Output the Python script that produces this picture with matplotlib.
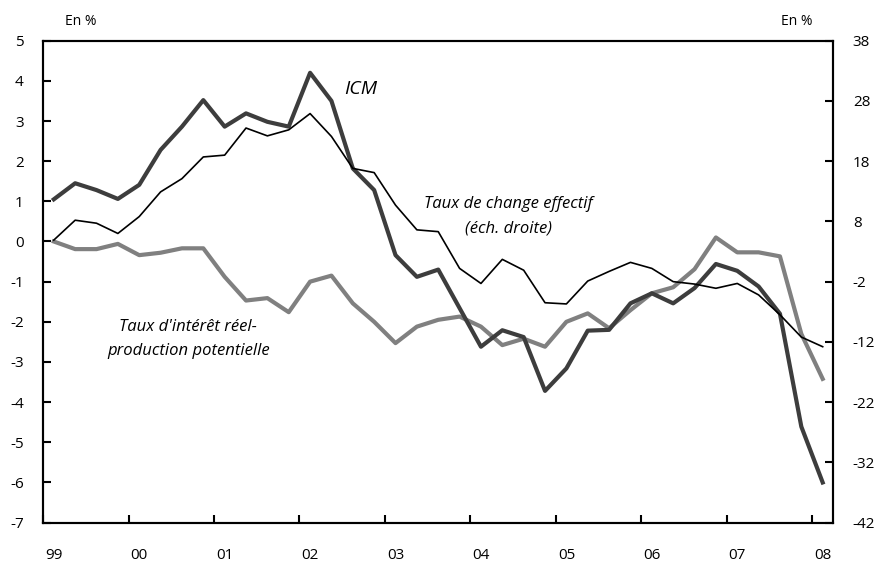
import numpy as np
import matplotlib
matplotlib.use("Agg")
import matplotlib.pyplot as plt

plt.rcParams['font.family'] = ['Open Sans', 'DejaVu Sans']
plt.rcParams['axes.unicode_minus'] = False

# trimestres 1999T1 - 2008T1
annees = ['99', '00', '01', '02', '03', '04', '05', '06', '07', '08']

icm = [1.05, 1.45, 1.28, 1.06, 1.41, 2.28, 2.86, 3.52, 2.86, 3.19, 2.98, 2.86,
       4.2, 3.5, 1.82, 1.28, -0.34, -0.88, -0.7, -1.66, -2.62, -2.21, -2.38, -3.72,
       -3.16, -2.22, -2.2, -1.54, -1.29, -1.54, -1.16, -0.56, -0.73, -1.12, -1.8, -4.61,
       -6.0]

taux_interet = [0.0, -0.19, -0.19, -0.06, -0.34, -0.28, -0.17, -0.17, -0.88, -1.47, -1.41, -1.76,
                -1.0, -0.85, -1.54, -2.0, -2.53, -2.12, -1.95, -1.87, -2.12, -2.58, -2.42, -2.62,
                -2.0, -1.79, -2.16, -1.71, -1.29, -1.14, -0.69, 0.1, -0.27, -0.27, -0.37, -2.3,
                -3.42]

# echelle de droite
taux_change = [4.9, 8.2, 7.7, 6.0, 8.8, 12.9, 15.1, 18.7, 19.0, 23.5, 22.2, 23.2,
               25.9, 22.1, 16.8, 16.1, 10.7, 6.6, 6.3, 0.2, -2.3, 1.7, -0.1, -5.5,
               -5.7, -1.9, -0.3, 1.2, 0.2, -2.0, -2.4, -3.1, -2.3, -4.2, -7.5, -11.2,
               -12.8]

x = np.arange(len(icm))

fig = plt.figure(figsize=(8.8, 5.65), dpi=100)
ax = fig.add_axes([0.049, 0.075, 0.898, 0.853])
ax2 = ax.twinx()

ax.plot(x, taux_interet, color='#808080', lw=3.0, zorder=3)
ax.plot(x, icm, color='#3d3d3d', lw=3.0, zorder=4)
ax2.plot(x, taux_change, color='black', lw=1.2, zorder=5)

ax.set_xlim(-0.5, len(icm) - 0.5)
ax.set_ylim(-7, 5)
ax.set_yticks(np.arange(-7, 6, 1))
ax2.set_ylim(-42, 38)
ax2.set_yticks(np.arange(-42, 39, 10))

ax.set_xticks(np.arange(-0.5, len(icm) - 1, 4))
ax.set_xticklabels([])
ax.set_xticks(np.arange(0, len(icm), 4), minor=True)
ax.set_xticklabels(annees, minor=True)
ax.tick_params(axis='x', which='major', direction='in', length=6, width=1.5)
ax.tick_params(axis='x', which='minor', length=0, pad=18, labelsize=11)
ax.tick_params(axis='y', direction='in', length=6, width=1.5, pad=14, labelsize=11)
ax2.tick_params(axis='y', direction='in', length=6, width=1.5, pad=14, labelsize=11)

for a in (ax, ax2):
    for s in a.spines.values():
        s.set_linewidth(1.5)
        s.set_color('black')

fig.text(0.074, 0.962, 'En %', fontsize=10, ha='left', va='center')
fig.text(0.923, 0.962, 'En %', fontsize=10, ha='right', va='center')

ax.text(13.6, 3.8, 'ICM', fontsize=14, style='italic', ha='left', va='center')
ax.text(21.3, 0.63, "Taux de change effectif\n(éch. droite)", fontsize=12,
        style='italic', ha='center', va='center', linespacing=1.7)
ax.text(6.3, -2.43, "Taux d'intérêt réel-\nproduction potentielle", fontsize=12,
        style='italic', ha='center', va='center', linespacing=1.7)

fig.savefig('out.png', dpi=100)
